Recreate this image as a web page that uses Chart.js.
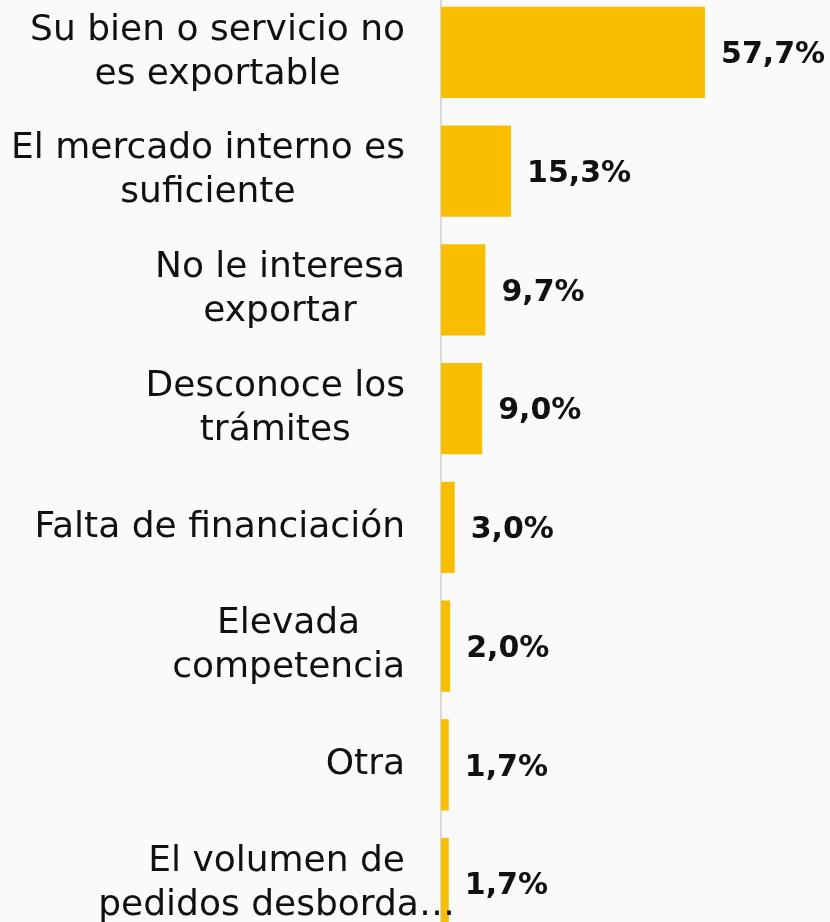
<!DOCTYPE html>
<html>
<head>
<meta charset="utf-8">
<script src="https://cdn.jsdelivr.net/npm/chart.js@4.4.0/dist/chart.umd.min.js"></script>
<style>
    html, body { margin: 0; padding: 0; background: #fafafa; overflow: hidden; }
    #wrap { position: relative; width: 830px; height: 922px; overflow: hidden; }
    #box { position: absolute; left: 0; top: -7px; width: 830px; height: 950px; }
</style>
</head>
<body>
<div id="wrap">
    <div id="box"><canvas id="motivosChart"></canvas></div>
</div>
<script>
// categories (already wrapped as in the picture)
const categories = [
    ["Su bien o servicio no", "es exportable"],
    ["El mercado interno es", "suficiente"],
    ["No le interesa", "exportar"],
    ["Desconoce los", "trámites"],
    ["Falta de financiación"],
    ["Elevada", "competencia"],
    ["Otra"],
    ["El volumen de", "pedidos desborda…"]
];
const percentages = [57.7, 15.3, 9.7, 9.0, 3.0, 2.0, 1.7, 1.7];

const LABEL_FONT = "36px 'DejaVu Sans'";
const VALUE_FONT = "bold 30px 'DejaVu Sans'";

// category labels: right aligned block, lines centred inside the block
const categoryLabels = {
    id: "categoryLabels",
    afterDraw(chart) {
        const ctx = chart.ctx;
        const yScale = chart.scales.y;
        const right = chart.chartArea.left - 36;
        ctx.save();
        ctx.font = LABEL_FONT;
        ctx.fillStyle = "#111";
        ctx.textAlign = "center";
        ctx.textBaseline = "middle";
        categories.forEach((lines, i) => {
            const widths = lines.filter(l => !l.endsWith("…")).map(l => ctx.measureText(l).width);
            const blockW = Math.max(...widths);
            const cx = right - blockW / 2;
            const cy = yScale.getPixelForValue(i);
            lines.forEach((line, j) => {
                ctx.fillText(line, cx, cy + (j - (lines.length - 1) / 2) * 44);
            });
        });
        ctx.restore();
    }
};

// value labels at the end of each bar
const valueLabels = {
    id: "valueLabels",
    afterDatasetsDraw(chart) {
        const ctx = chart.ctx;
        const meta = chart.getDatasetMeta(0);
        ctx.save();
        ctx.font = VALUE_FONT;
        ctx.fillStyle = "#111";
        ctx.textAlign = "left";
        ctx.textBaseline = "middle";
        meta.data.forEach((bar, i) => {
            const txt = percentages[i].toFixed(1).replace(".", ",") + "%";
            ctx.fillText(txt, bar.x + 16, bar.y + 3);
        });
        ctx.restore();
    }
};

new Chart(document.getElementById("motivosChart"), {
    type: "bar",
    data: {
        labels: categories,
        datasets: [{
            data: percentages,
            backgroundColor: "#FABE00",
            borderWidth: 0,
            barPercentage: 0.77,
            categoryPercentage: 1
        }]
    },
    options: {
        indexAxis: "y",
        responsive: true,
        maintainAspectRatio: false,
        animation: false,
        layout: { padding: { left: 441, right: 0, top: 0, bottom: 0 } },
        plugins: {
            legend: { display: false },
            tooltip: { enabled: false }
        },
        scales: {
            x: {
                display: false,
                min: 0,
                max: 85
            },
            y: {
                afterFit: (scale) => { scale.width = 0; },
                grid: { display: false },
                ticks: { display: false },
                border: { display: true, color: "#d9d9d9", width: 2 }
            }
        }
    },
    plugins: [categoryLabels, valueLabels]
});
</script>
</body>
</html>
